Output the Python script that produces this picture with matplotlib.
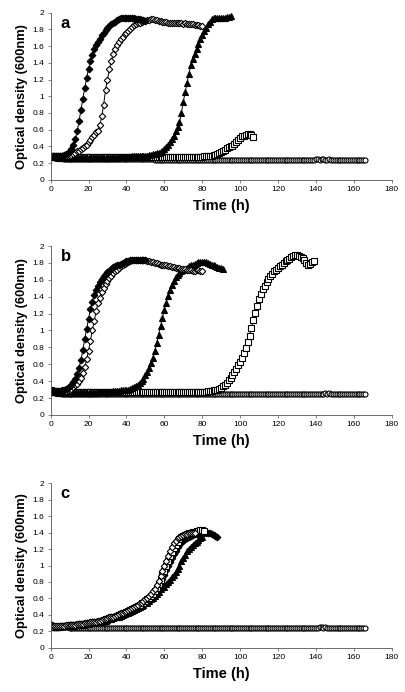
import matplotlib
matplotlib.use('Agg')
import matplotlib.pyplot as plt
import numpy as np

plt.rcParams['font.family'] = ['Liberation Sans', 'DejaVu Sans']

# readings taken every hour (time = index in hours)
# ---- panel a ----
a_fd = [0.28, 0.28, 0.28, 0.28, 0.28, 0.29, 0.29, 0.30, 0.31, 0.32,
        0.34, 0.37, 0.42, 0.49, 0.58, 0.70, 0.84, 0.97, 1.10, 1.22,
        1.33, 1.42, 1.49, 1.56, 1.61, 1.65, 1.69, 1.73, 1.76, 1.79,
        1.82, 1.84, 1.86, 1.88, 1.89, 1.91, 1.92, 1.93, 1.93, 1.94,
        1.94, 1.94, 1.93, 1.93, 1.93, 1.92, 1.92, 1.92, 1.91, 1.91, 1.90]
a_od = [0.27, 0.27, 0.27, 0.27, 0.27, 0.27, 0.28, 0.28, 0.28, 0.29,
        0.29, 0.30, 0.31, 0.32, 0.34, 0.35, 0.37, 0.38, 0.40, 0.42,
        0.45, 0.48, 0.51, 0.54, 0.57, 0.59, 0.66, 0.76, 0.90, 1.08,
        1.20, 1.32, 1.42, 1.50, 1.56, 1.61, 1.65, 1.68, 1.71, 1.74,
        1.76, 1.78, 1.80, 1.83, 1.85, 1.86, 1.87, 1.88, 1.89, 1.90,
        1.90, 1.91, 1.91, 1.92, 1.92, 1.91, 1.91, 1.90, 1.90, 1.89,
        1.89, 1.89, 1.88, 1.88, 1.88, 1.88, 1.87, 1.87, 1.87, 1.87,
        1.86, 1.87, 1.86, 1.86, 1.86, 1.86, 1.85, 1.85, 1.85, 1.84, 1.84]
a_tr = [0.27, 0.27, 0.27, 0.27, 0.26, 0.26, 0.26, 0.26, 0.26, 0.26,
        0.26, 0.26, 0.26, 0.26, 0.26, 0.26, 0.26, 0.26, 0.26, 0.26,
        0.26, 0.26, 0.26, 0.26, 0.26, 0.26, 0.26, 0.26, 0.26, 0.26,
        0.26, 0.26, 0.26, 0.26, 0.26, 0.26, 0.27, 0.27, 0.27, 0.27,
        0.27, 0.27, 0.27, 0.28, 0.28, 0.28, 0.28, 0.28, 0.29, 0.29,
        0.29, 0.29, 0.30, 0.30, 0.31, 0.31, 0.32, 0.32, 0.33, 0.35,
        0.37, 0.39, 0.42, 0.45, 0.49, 0.53, 0.58, 0.63, 0.69, 0.80,
        0.93, 1.05, 1.16, 1.27, 1.37, 1.45, 1.51, 1.57, 1.63, 1.68,
        1.73, 1.78, 1.82, 1.86, 1.89, 1.92, 1.93, 1.93, 1.93, 1.93,
        1.93, 1.94, 1.94, 1.95, 1.95, 1.96]
a_sq = [0.29, 0.29, 0.28, 0.28, 0.28, 0.28, 0.28, 0.28, 0.28, 0.28,
        0.28, 0.28, 0.28, 0.27, 0.27, 0.27, 0.27, 0.27, 0.27, 0.27,
        0.27, 0.27, 0.27, 0.27, 0.27, 0.27, 0.27, 0.27, 0.27, 0.27,
        0.27, 0.27, 0.27, 0.27, 0.27, 0.27, 0.27, 0.27, 0.27, 0.27,
        0.27, 0.27, 0.27, 0.27, 0.27, 0.27, 0.27, 0.27, 0.27, 0.27,
        0.27, 0.27, 0.27, 0.27, 0.27, 0.27, 0.27, 0.27, 0.27, 0.27,
        0.27, 0.27, 0.27, 0.27, 0.27, 0.27, 0.27, 0.27, 0.27, 0.27,
        0.27, 0.27, 0.27, 0.27, 0.27, 0.27, 0.27, 0.27, 0.27, 0.27,
        0.27, 0.28, 0.28, 0.28, 0.29, 0.29, 0.30, 0.30, 0.31, 0.32,
        0.33, 0.34, 0.36, 0.38, 0.39, 0.40, 0.41, 0.43, 0.45, 0.48,
        0.50, 0.52, 0.53, 0.54, 0.55, 0.55, 0.54, 0.51]
a_ci = [0.28, 0.28, 0.27, 0.27, 0.26, 0.26, 0.26, 0.25, 0.25, 0.25,
        0.25, 0.25, 0.25, 0.25, 0.25, 0.25, 0.25, 0.25, 0.25, 0.25,
        0.25, 0.25, 0.25, 0.25, 0.25, 0.25, 0.25, 0.25, 0.25, 0.25,
        0.25, 0.25, 0.25, 0.25, 0.25, 0.25, 0.25, 0.25, 0.25, 0.25,
        0.25, 0.25, 0.25, 0.25, 0.25, 0.25, 0.25, 0.25, 0.25, 0.25,
        0.25, 0.25, 0.25, 0.25, 0.25, 0.24, 0.24, 0.24, 0.24, 0.24,
        0.24, 0.24, 0.24, 0.24, 0.24, 0.24, 0.24, 0.24, 0.24, 0.24,
        0.24, 0.24, 0.24, 0.24, 0.24, 0.24, 0.24, 0.24, 0.24, 0.24,
        0.24, 0.24, 0.24, 0.24, 0.24, 0.24, 0.24, 0.24, 0.24, 0.24,
        0.24, 0.24, 0.24, 0.24, 0.24, 0.24, 0.24, 0.24, 0.24, 0.24,
        0.24, 0.24, 0.24, 0.24, 0.24, 0.24, 0.24, 0.24, 0.24, 0.24,
        0.24, 0.24, 0.24, 0.24, 0.24, 0.24, 0.24, 0.24, 0.24, 0.24,
        0.24, 0.24, 0.24, 0.24, 0.24, 0.24, 0.24, 0.24, 0.24, 0.24,
        0.24, 0.24, 0.24, 0.24, 0.24, 0.24, 0.24, 0.24, 0.24, 0.24,
        0.25, 0.25, 0.24, 0.25, 0.25, 0.24, 0.24, 0.25, 0.24, 0.24,
        0.24, 0.24, 0.24, 0.24, 0.24, 0.24, 0.24, 0.24, 0.24, 0.24,
        0.24, 0.24, 0.24, 0.24, 0.24, 0.24, 0.24]

# ---- panel b ----
b_fd = [0.29, 0.28, 0.28, 0.28, 0.28, 0.28, 0.29, 0.30, 0.31, 0.32,
        0.34, 0.36, 0.39, 0.43, 0.49, 0.56, 0.65, 0.77, 0.90, 1.02,
        1.14, 1.25, 1.34, 1.42, 1.48, 1.53, 1.57, 1.61, 1.64, 1.67,
        1.69, 1.71, 1.73, 1.75, 1.76, 1.77, 1.78, 1.79, 1.80, 1.81,
        1.82, 1.82, 1.83, 1.83, 1.83, 1.84, 1.84, 1.84, 1.83, 1.83, 1.83]
b_od = [0.27, 0.27, 0.27, 0.27, 0.27, 0.28, 0.28, 0.28, 0.28, 0.29,
        0.30, 0.31, 0.33, 0.35, 0.37, 0.40, 0.44, 0.50, 0.57, 0.66,
        0.76, 0.88, 1.00, 1.11, 1.23, 1.32, 1.39, 1.45, 1.50, 1.55,
        1.59, 1.62, 1.65, 1.68, 1.70, 1.72, 1.74, 1.76, 1.78, 1.79,
        1.80, 1.81, 1.82, 1.83, 1.83, 1.84, 1.84, 1.84, 1.83, 1.83,
        1.83, 1.82, 1.82, 1.81, 1.81, 1.80, 1.80, 1.79, 1.78, 1.78,
        1.77, 1.77, 1.76, 1.76, 1.75, 1.75, 1.74, 1.74, 1.74, 1.73,
        1.73, 1.73, 1.72, 1.72, 1.72, 1.71, 1.71, 1.72, 1.72, 1.71, 1.70]
b_tr = [0.27, 0.27, 0.27, 0.27, 0.26, 0.26, 0.26, 0.26, 0.26, 0.26,
        0.26, 0.26, 0.26, 0.26, 0.26, 0.26, 0.26, 0.26, 0.26, 0.26,
        0.26, 0.26, 0.26, 0.26, 0.26, 0.27, 0.27, 0.27, 0.27, 0.27,
        0.27, 0.27, 0.27, 0.28, 0.28, 0.28, 0.28, 0.29, 0.29, 0.29,
        0.30, 0.30, 0.31, 0.32, 0.33, 0.34, 0.36, 0.38, 0.40, 0.43,
        0.47, 0.51, 0.56, 0.62, 0.68, 0.76, 0.85, 0.95, 1.05, 1.15,
        1.24, 1.33, 1.41, 1.48, 1.54, 1.59, 1.63, 1.66, 1.68, 1.70,
        1.72, 1.73, 1.74, 1.76, 1.77, 1.78, 1.79, 1.80, 1.81, 1.81,
        1.81, 1.81, 1.81, 1.80, 1.79, 1.78, 1.77, 1.76, 1.75, 1.74,
        1.74, 1.73]
b_sq = [0.29, 0.28, 0.28, 0.28, 0.27, 0.27, 0.27, 0.27, 0.27, 0.27,
        0.27, 0.27, 0.27, 0.27, 0.27, 0.27, 0.27, 0.27, 0.27, 0.27,
        0.27, 0.27, 0.27, 0.27, 0.27, 0.27, 0.27, 0.27, 0.27, 0.27,
        0.27, 0.27, 0.27, 0.27, 0.27, 0.27, 0.27, 0.27, 0.27, 0.27,
        0.27, 0.27, 0.27, 0.27, 0.27, 0.27, 0.27, 0.27, 0.27, 0.27,
        0.27, 0.27, 0.27, 0.27, 0.27, 0.27, 0.27, 0.27, 0.27, 0.27,
        0.27, 0.27, 0.27, 0.27, 0.27, 0.27, 0.27, 0.27, 0.27, 0.27,
        0.27, 0.27, 0.27, 0.27, 0.27, 0.27, 0.27, 0.27, 0.27, 0.27,
        0.27, 0.27, 0.27, 0.28, 0.28, 0.28, 0.29, 0.29, 0.30, 0.31,
        0.32, 0.34, 0.36, 0.38, 0.41, 0.44, 0.47, 0.51, 0.55, 0.59,
        0.63, 0.68, 0.73, 0.79, 0.86, 0.94, 1.03, 1.12, 1.21, 1.29,
        1.37, 1.43, 1.49, 1.53, 1.57, 1.61, 1.64, 1.67, 1.70, 1.72,
        1.74, 1.76, 1.78, 1.80, 1.82, 1.84, 1.85, 1.87, 1.88, 1.89,
        1.89, 1.88, 1.87, 1.86, 1.84, 1.80, 1.78, 1.79, 1.81, 1.82]
b_ci = [0.29, 0.28, 0.27, 0.27, 0.26, 0.26, 0.25, 0.25, 0.25, 0.25,
        0.25, 0.25, 0.25, 0.25, 0.25, 0.25, 0.25, 0.25, 0.25, 0.25,
        0.25, 0.25, 0.25, 0.25, 0.25, 0.25, 0.25, 0.25, 0.25, 0.25,
        0.25, 0.25, 0.25, 0.25, 0.25, 0.25, 0.25, 0.25, 0.25, 0.25,
        0.25, 0.25, 0.25, 0.25, 0.25, 0.25, 0.25, 0.25, 0.25, 0.25,
        0.25, 0.25, 0.25, 0.25, 0.25, 0.25, 0.25, 0.25, 0.25, 0.25,
        0.25, 0.25, 0.25, 0.25, 0.25, 0.25, 0.25, 0.25, 0.25, 0.25,
        0.25, 0.25, 0.25, 0.25, 0.25, 0.25, 0.25, 0.25, 0.25, 0.25,
        0.25, 0.25, 0.25, 0.25, 0.25, 0.25, 0.25, 0.25, 0.25, 0.25,
        0.25, 0.25, 0.25, 0.25, 0.25, 0.25, 0.25, 0.25, 0.25, 0.25,
        0.25, 0.25, 0.25, 0.25, 0.25, 0.25, 0.25, 0.25, 0.25, 0.25,
        0.25, 0.25, 0.25, 0.25, 0.25, 0.25, 0.25, 0.25, 0.25, 0.25,
        0.25, 0.25, 0.25, 0.25, 0.25, 0.25, 0.25, 0.25, 0.25, 0.25,
        0.25, 0.25, 0.25, 0.25, 0.25, 0.25, 0.25, 0.25, 0.25, 0.25,
        0.25, 0.25, 0.25, 0.25, 0.25, 0.26, 0.25, 0.26, 0.25, 0.25,
        0.25, 0.25, 0.25, 0.25, 0.25, 0.25, 0.25, 0.25, 0.25, 0.25,
        0.25, 0.25, 0.25, 0.25, 0.25, 0.25, 0.25]

# ---- panel c ----
c_od = [0.28, 0.27, 0.27, 0.27, 0.27, 0.27, 0.27, 0.27, 0.28, 0.28,
        0.28, 0.28, 0.28, 0.28, 0.29, 0.29, 0.29, 0.29, 0.30, 0.30,
        0.30, 0.31, 0.31, 0.32, 0.32, 0.33, 0.33, 0.34, 0.35, 0.35,
        0.36, 0.37, 0.38, 0.38, 0.39, 0.40, 0.41, 0.42, 0.43, 0.44,
        0.45, 0.46, 0.47, 0.48, 0.50, 0.51, 0.52, 0.54, 0.55, 0.57,
        0.59, 0.61, 0.63, 0.66, 0.69, 0.72, 0.76, 0.81, 0.87, 0.93,
        0.99, 1.06, 1.12, 1.18, 1.23, 1.27, 1.30, 1.33, 1.35, 1.36,
        1.37, 1.38, 1.38, 1.39, 1.39, 1.40, 1.40]
c_sq = [0.27, 0.27, 0.26, 0.26, 0.26, 0.27, 0.27, 0.27, 0.27, 0.27,
        0.28, 0.28, 0.28, 0.28, 0.28, 0.29, 0.29, 0.29, 0.29, 0.30,
        0.30, 0.30, 0.31, 0.31, 0.32, 0.32, 0.33, 0.33, 0.34, 0.35,
        0.35, 0.36, 0.37, 0.37, 0.38, 0.39, 0.40, 0.41, 0.42, 0.43,
        0.44, 0.45, 0.46, 0.47, 0.48, 0.50, 0.51, 0.52, 0.54, 0.55,
        0.57, 0.59, 0.61, 0.63, 0.66, 0.69, 0.73, 0.77, 0.82, 0.88,
        0.93, 0.99, 1.05, 1.11, 1.16, 1.21, 1.25, 1.29, 1.32, 1.34,
        1.36, 1.37, 1.38, 1.39, 1.40, 1.41, 1.41, 1.42, 1.42, 1.43,
        1.43, 1.42]
c_tr = [0.27, 0.26, 0.26, 0.26, 0.26, 0.26, 0.27, 0.27, 0.27, 0.27,
        0.27, 0.27, 0.27, 0.28, 0.28, 0.28, 0.28, 0.28, 0.29, 0.29,
        0.29, 0.30, 0.30, 0.30, 0.31, 0.31, 0.32, 0.32, 0.33, 0.33,
        0.34, 0.35, 0.35, 0.36, 0.37, 0.38, 0.38, 0.39, 0.40, 0.41,
        0.42, 0.43, 0.44, 0.45, 0.46, 0.47, 0.48, 0.50, 0.51, 0.52,
        0.54, 0.55, 0.57, 0.59, 0.61, 0.63, 0.65, 0.68, 0.71, 0.74,
        0.74, 0.77, 0.80, 0.83, 0.86, 0.89, 0.92, 0.96, 1.00, 1.05,
        1.09, 1.13, 1.17, 1.20, 1.23, 1.25, 1.27, 1.29, 1.31, 1.33, 1.35]
c_fd = [0.27, 0.27, 0.26, 0.26, 0.26, 0.27, 0.27, 0.27, 0.27, 0.27,
        0.28, 0.28, 0.28, 0.28, 0.28, 0.29, 0.29, 0.29, 0.29, 0.30,
        0.30, 0.30, 0.31, 0.31, 0.32, 0.32, 0.33, 0.33, 0.34, 0.35,
        0.35, 0.36, 0.37, 0.37, 0.38, 0.39, 0.40, 0.41, 0.42, 0.43,
        0.44, 0.45, 0.46, 0.47, 0.48, 0.50, 0.51, 0.52, 0.54, 0.55,
        0.56, 0.58, 0.60, 0.62, 0.65, 0.68, 0.71, 0.75, 0.79, 0.84,
        0.89, 0.94, 0.99, 1.04, 1.09, 1.14, 1.18, 1.22, 1.25, 1.28,
        1.30, 1.32, 1.33, 1.35, 1.36, 1.37, 1.38, 1.38, 1.39, 1.39,
        1.40, 1.40, 1.40, 1.39, 1.39, 1.38, 1.37, 1.36, 1.35]
c_ci = [0.29, 0.27, 0.26, 0.25, 0.25, 0.25, 0.25, 0.25, 0.25, 0.25,
        0.24, 0.24, 0.24, 0.24, 0.24, 0.24, 0.24, 0.24, 0.24, 0.24,
        0.24, 0.24, 0.24, 0.24, 0.24, 0.24, 0.24, 0.24, 0.24, 0.24,
        0.24, 0.24, 0.24, 0.24, 0.24, 0.24, 0.24, 0.24, 0.24, 0.24,
        0.24, 0.24, 0.24, 0.24, 0.24, 0.24, 0.24, 0.24, 0.24, 0.24,
        0.24, 0.24, 0.24, 0.24, 0.24, 0.24, 0.24, 0.24, 0.24, 0.24,
        0.24, 0.24, 0.24, 0.24, 0.24, 0.24, 0.24, 0.24, 0.24, 0.24,
        0.24, 0.24, 0.24, 0.24, 0.24, 0.24, 0.24, 0.24, 0.24, 0.24,
        0.24, 0.24, 0.24, 0.24, 0.24, 0.24, 0.24, 0.24, 0.24, 0.24,
        0.24, 0.24, 0.24, 0.24, 0.24, 0.24, 0.24, 0.24, 0.24, 0.24,
        0.24, 0.24, 0.24, 0.24, 0.24, 0.24, 0.24, 0.24, 0.24, 0.24,
        0.24, 0.24, 0.24, 0.24, 0.24, 0.24, 0.24, 0.24, 0.24, 0.24,
        0.24, 0.24, 0.24, 0.24, 0.24, 0.24, 0.24, 0.24, 0.24, 0.24,
        0.24, 0.24, 0.24, 0.24, 0.24, 0.24, 0.24, 0.24, 0.24, 0.24,
        0.24, 0.24, 0.25, 0.25, 0.24, 0.25, 0.24, 0.24, 0.24, 0.24,
        0.24, 0.24, 0.24, 0.24, 0.24, 0.24, 0.24, 0.24, 0.24, 0.24,
        0.24, 0.24, 0.24, 0.24, 0.24, 0.24, 0.24]

xticks = list(range(0, 181, 20))
yticks = [0, 0.2, 0.4, 0.6, 0.8, 1, 1.2, 1.4, 1.6, 1.8, 2]
ytick_labels = ['0', '0.2', '0.4', '0.6', '0.8', '1', '1.2', '1.4', '1.6', '1.8', '2']

# marker style per series kind
styles = {
    'ci': dict(marker='o', ms=3.6, mfc='white'),
    'sq': dict(marker='s', ms=3.7, mfc='white'),
    'tr': dict(marker='^', ms=4.0, mfc='black'),
    'od': dict(marker='D', ms=3.3, mfc='white'),
    'fd': dict(marker='D', ms=3.4, mfc='black'),
}

panels = [
    ('a', [0.125, 0.740, 0.842, 0.2418], [('ci', a_ci), ('sq', a_sq), ('tr', a_tr), ('od', a_od), ('fd', a_fd)]),
    ('b', [0.125, 0.4003, 0.842, 0.2442], [('ci', b_ci), ('sq', b_sq), ('tr', b_tr), ('od', b_od), ('fd', b_fd)]),
    ('c', [0.125, 0.0636, 0.842, 0.2384], [('ci', c_ci), ('fd', c_fd), ('tr', c_tr), ('sq', c_sq), ('od', c_od)]),
]

fig = plt.figure(figsize=(4.05, 6.92), dpi=100)

for letter, rect, series in panels:
    ax = fig.add_axes(rect)
    for kind, vals in series:
        t = np.arange(len(vals))
        st = styles[kind]
        ax.plot(t, vals, color='black', lw=0.7, marker=st['marker'], ms=st['ms'],
                mfc=st['mfc'], mec='black', mew=0.8)
    ax.set_xlim(0, 180)
    ax.set_ylim(0, 2)
    ax.set_xticks(xticks)
    ax.set_yticks(yticks)
    ax.set_yticklabels(ytick_labels)
    for s in ['top', 'right']:
        ax.spines[s].set_visible(False)
    for s in ['left', 'bottom']:
        ax.spines[s].set_linewidth(0.6)
        ax.spines[s].set_color('#555555')
    ax.tick_params(direction='out', length=2, width=0.5, color='#555555',
                   labelsize=6, pad=2.5)
    ax.set_xlabel('Time (h)', fontsize=10.5, fontweight='bold', labelpad=4)
    ax.set_ylabel('Optical density (600nm)', fontsize=9.3, fontweight='bold', labelpad=3)
    ax.text(0.03, 0.935, letter, transform=ax.transAxes, fontsize=12,
            fontweight='bold', va='center', ha='left')

fig.savefig('out.png', dpi=100)
